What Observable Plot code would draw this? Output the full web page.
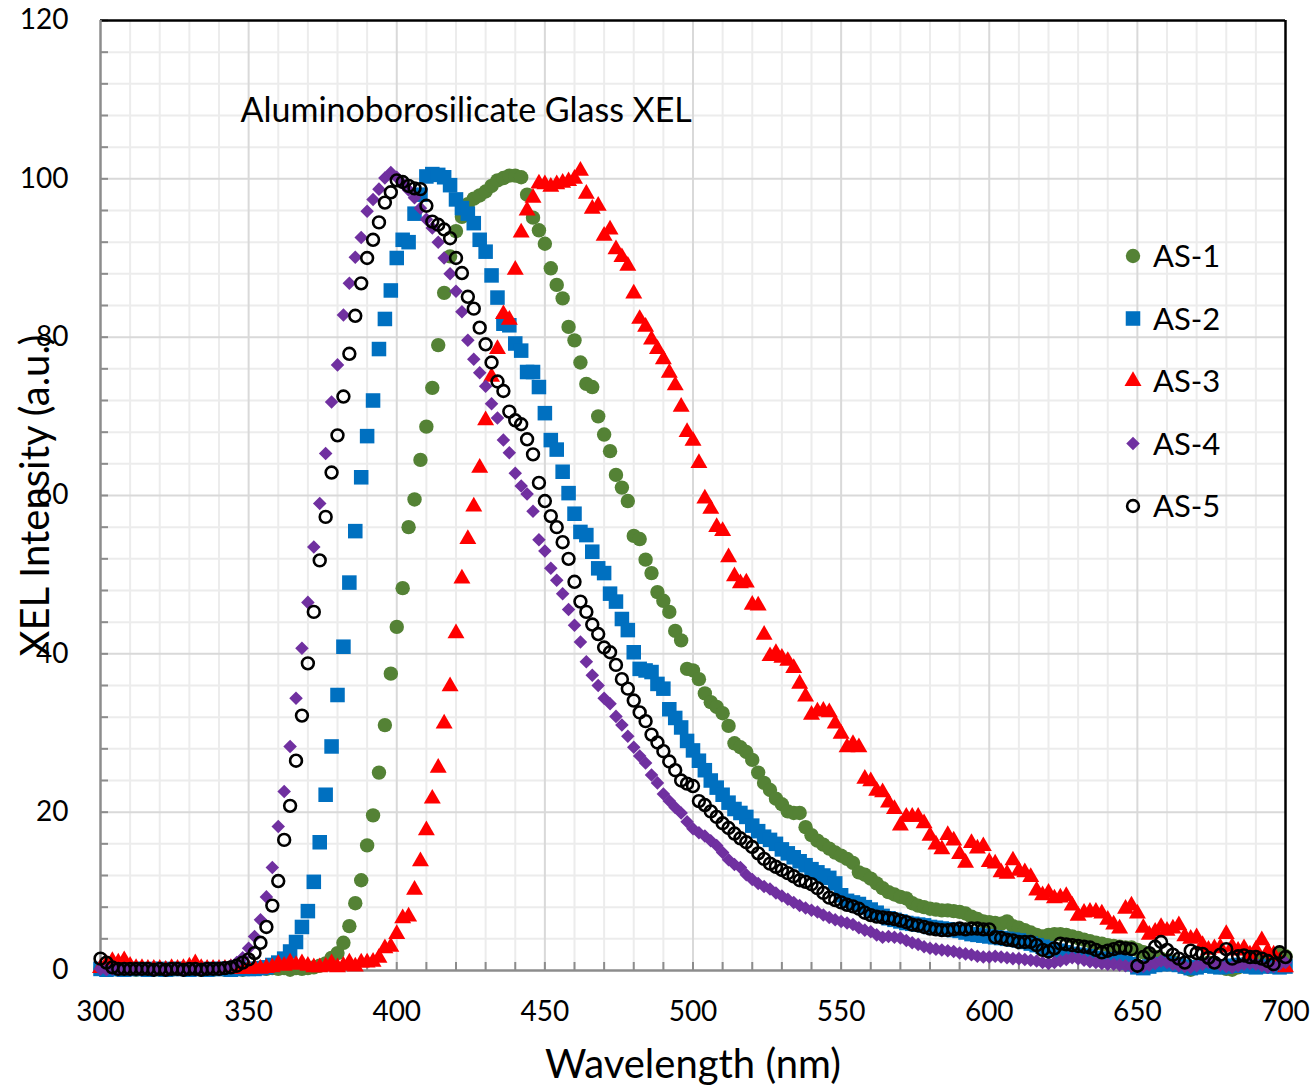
<!DOCTYPE html>
<html>
<head>
<meta charset="utf-8">
<script src="https://cdn.jsdelivr.net/npm/d3@7"></script>
<script src="https://cdn.jsdelivr.net/npm/@observablehq/plot@0.6"></script>
<style>
  body { margin: 0; background: #fff; }
  #wrap { position: relative; width: 1312px; height: 1085px; font-family: Lato, "Open Sans", sans-serif; }
  #legend { position: absolute; left: 0; top: 0; }
</style>
</head>
<body>
<div id="wrap"></div>
<script>
// ---- data ----
const wavelength = d3.range(300, 701, 2); // nm, 201 points

const seriesNames = ["AS-1", "AS-2", "AS-3", "AS-4", "AS-5"];

const as1 = [
 0.2,0.1,0.2,0.1,0.2,0.2,0.1,0.2,0.1,0.2,
 0.1,0.2,0.1,0.2,0.2,0.1,0.2,0.1,0.2,0.1,
 0.2,0.1,0.2,0.2,0.1,0.2,0.2,0.3,0.2,0.3,
 0.2,0.3,0.1,0.3,0.2,0.3,0.4,0.6,0.9,1.6,
 2.2,3.5,5.6,8.5,11.4,15.8,19.6,25.0,31.0,37.5,
 43.4,48.3,56.0,59.5,64.5,68.7,73.6,79.0,85.6,90.2,
 93.4,95.2,96.8,97.5,97.9,98.4,99.1,99.8,100.1,100.4,
 100.4,100.2,98.0,95.1,93.5,91.8,88.7,86.6,84.9,81.3,
 79.6,76.8,74.1,73.7,70.0,67.7,65.6,62.6,61.0,59.3,
 54.9,54.5,51.9,50.2,47.8,46.7,45.3,42.9,41.7,38.1,
 37.9,36.8,35.0,33.9,33.3,32.5,30.9,28.7,28.2,27.6,
 26.6,25.0,23.7,22.8,21.7,21.0,20.1,19.9,19.9,18.1,
 17.1,16.4,15.9,15.4,14.9,14.5,14.1,13.6,12.4,12.1,
 11.6,11.0,10.4,9.9,9.6,9.3,9.1,8.5,8.2,8.0,
 7.8,7.7,7.6,7.6,7.5,7.4,7.2,6.8,6.5,6.2,
 6.1,6.0,5.9,6.2,5.6,5.4,5.1,4.8,4.5,4.3,
 4.5,4.6,4.6,4.5,4.3,4.1,3.9,3.7,3.5,3.4,
 3.2,3.1,3.0,2.9,2.9,2.6,2.3,2.0,1.7,1.5,
 1.3,1.1,0.8,0.4,0.1,0.4,0.8,1.0,0.7,0.4,
 0.2,0.1,0.4,0.8,1.0,1.2,1.3,1.6,1.9,2.2,
 1.8];

const as2 = [
 0.2,0.1,0.2,0.2,0.1,0.2,0.2,0.2,0.1,0.2,
 0.2,0.1,0.2,0.2,0.2,0.1,0.2,0.2,0.1,0.2,
 0.2,0.2,0.1,0.2,0.2,0.2,0.2,0.3,0.4,0.7,
 1.0,1.5,2.4,3.6,5.5,7.5,11.2,16.2,22.2,28.3,
 34.8,40.9,49.0,55.5,62.3,67.5,72.0,78.5,82.3,85.9,
 90.0,92.3,92.0,95.6,98.0,100.3,100.6,100.5,100.2,99.2,
 97.4,96.3,95.6,94.4,92.3,90.8,87.8,85.0,81.7,81.5,
 79.2,78.3,75.6,75.6,73.7,70.4,67.0,65.8,63.0,60.3,
 57.7,55.4,55.0,52.9,50.8,50.2,47.6,46.6,44.4,43.0,
 40.2,38.1,37.9,37.7,36.2,35.6,33.0,31.9,30.7,29.0,
 27.8,26.5,25.3,24.0,23.1,22.2,21.2,20.4,19.9,19.4,
 18.3,17.6,16.9,16.5,16.0,15.3,14.8,14.3,13.8,13.3,
 12.8,12.4,12.0,11.7,11.0,9.5,8.8,8.6,8.4,8.0,
 7.7,7.3,6.9,6.6,6.4,6.2,6.0,5.9,5.8,5.7,
 5.5,5.4,5.3,5.2,5.1,5.0,4.8,4.6,4.5,4.4,
 4.3,4.2,4.1,4.0,3.9,3.8,3.6,3.4,3.2,3.0,
 2.8,2.6,2.5,2.3,2.1,2.0,1.9,1.8,1.6,1.5,
 1.4,1.3,1.2,1.0,0.8,0.4,0.3,0.5,0.7,0.8,
 0.9,0.8,0.7,0.5,0.3,0.4,0.6,0.7,0.5,0.4,
 0.5,0.6,0.7,0.6,0.5,0.4,0.5,0.6,0.5,0.4,
 0.5];

const as3 = [
 0.3,0.8,1.2,1.0,1.3,0.6,0.3,0.3,0.2,0.2,
 0.2,0.1,0.3,0.2,0.3,0.5,0.9,0.3,0.2,0.2,
 0.2,0.2,0.3,0.2,0.2,0.2,0.3,0.2,0.3,0.4,
 0.8,0.6,1.0,0.7,0.9,0.6,0.4,0.4,0.5,0.9,
 0.4,0.6,1.0,0.5,1.0,1.0,1.1,1.6,2.8,3.0,
 4.6,6.6,6.8,10.2,13.8,17.7,21.7,25.6,31.2,35.9,
 42.6,49.5,54.5,58.6,63.5,69.5,75.0,78.5,82.9,82.2,
 88.5,93.2,96.0,97.6,99.4,99.3,99.0,99.3,99.5,99.7,
 100.0,101.0,98.1,96.2,96.6,92.8,93.6,91.1,90.1,89.0,
 85.5,82.3,81.3,79.7,78.5,77.2,75.5,73.9,71.2,68.0,
 66.9,64.1,59.6,58.3,56.0,55.5,52.2,49.8,48.9,49.0,
 46.2,46.1,42.4,39.7,40.1,39.5,39.1,38.2,36.2,34.6,
 32.3,32.7,32.8,32.6,31.2,29.9,28.2,28.6,28.2,24.2,
 23.9,22.7,22.5,21.2,20.4,18.3,19.4,19.4,19.4,18.6,
 17.0,15.9,15.3,17.1,16.4,14.7,13.6,16.1,15.4,15.7,
 13.7,13.5,12.4,12.2,13.9,12.6,12.4,11.8,10.1,9.5,
 9.8,9.1,9.2,9.4,8.2,6.9,7.3,7.4,7.4,7.2,
 6.4,5.8,5.3,7.8,8.2,7.2,5.4,4.5,4.9,5.5,
 5.0,5.3,5.7,4.3,4.0,4.2,3.2,2.6,2.8,2.9,
 4.6,3.0,2.5,2.8,2.0,2.6,3.8,2.4,2.0,1.2,
 0.4];

const as4 = [
 0.2,0.1,0.2,0.1,0.2,0.1,0.2,0.1,0.2,0.1,
 0.2,0.1,0.2,0.2,0.1,0.2,0.1,0.2,0.2,0.2,
 0.3,0.4,0.6,1.0,1.6,2.8,4.3,6.4,9.3,13.0,
 18.2,22.6,28.3,34.4,40.7,46.5,53.5,59.0,65.3,71.8,
 76.5,82.8,86.8,90.1,92.6,95.9,97.4,98.7,100.1,100.8,
 100.2,99.4,98.6,97.6,96.3,94.9,93.8,92.0,90.0,88.0,
 85.8,83.2,79.6,77.2,75.5,73.8,71.6,69.8,67.0,65.4,
 62.8,61.2,60.2,58.0,54.4,53.0,50.8,49.3,47.6,45.6,
 43.6,41.5,39.0,37.3,36.0,34.4,33.7,32.1,31.0,29.6,
 28.2,27.1,26.2,24.7,23.7,22.3,21.4,20.6,19.9,18.8,
 17.9,17.4,17.0,16.4,15.8,14.9,14.0,13.4,13.0,12.1,
 11.5,11.0,10.6,10.3,9.8,9.4,9.0,8.6,8.2,7.9,
 7.6,7.4,7.0,6.7,6.4,6.2,6.0,5.8,5.4,5.1,
 4.9,4.5,4.2,4.3,4.2,4.1,3.8,3.5,3.3,3.0,
 2.8,2.7,2.6,2.5,2.4,2.2,2.1,2.0,1.8,1.7,
 1.7,1.8,1.7,1.6,1.5,1.5,1.4,1.3,1.2,1.0,
 0.9,1.0,1.2,1.4,1.6,1.5,1.3,1.1,1.0,0.9,
 0.8,0.8,0.7,0.6,0.5,0.4,0.5,0.7,0.9,1.2,
 1.0,0.8,0.6,0.5,0.4,0.6,0.8,1.0,0.9,0.7,
 0.5,0.4,0.6,0.8,0.9,0.8,0.6,0.4,0.5,0.8,
 1.0];

const as5 = [
 1.5,1.0,0.4,0.2,0.2,0.2,0.2,0.2,0.2,0.1,
 0.2,0.1,0.2,0.2,0.1,0.2,0.2,0.1,0.2,0.2,
 0.2,0.3,0.4,0.6,1.0,1.4,2.2,3.5,5.5,8.2,
 11.3,16.5,20.8,26.5,32.2,38.8,45.3,51.8,57.3,62.9,
 67.6,72.5,77.9,82.7,86.8,90.0,92.3,94.5,97.0,98.3,
 99.8,99.6,99.1,98.8,98.7,96.6,94.6,94.2,93.6,92.5,
 90.0,88.1,85.1,83.6,81.2,79.1,76.8,74.4,73.2,70.6,
 69.5,69.0,67.1,65.2,61.6,59.3,57.4,56.0,54.1,52.0,
 49.1,46.6,45.3,43.7,42.5,40.8,40.2,38.6,36.8,35.6,
 34.1,32.6,31.5,29.8,28.8,27.7,26.4,25.3,24.0,23.6,
 23.3,21.4,20.9,20.1,19.4,18.6,18.0,17.3,16.7,16.2,
 15.6,14.8,14.1,13.5,13.1,12.7,12.3,11.9,11.4,11.2,
 10.9,10.4,9.8,9.2,8.9,8.6,8.3,8.1,7.8,7.3,
 7.0,6.8,6.7,6.6,6.5,6.3,6.1,5.8,5.7,5.5,
 5.3,5.2,5.1,5.1,5.2,5.3,5.2,5.3,5.3,5.2,
 5.2,4.2,4.1,3.9,3.8,3.6,3.6,3.6,3.2,2.6,
 2.4,2.8,3.4,3.3,3.2,3.1,3.0,2.9,2.6,2.3,
 2.5,2.7,2.9,2.8,2.7,0.6,1.7,2.2,3.0,3.6,
 2.6,2.0,1.5,1.0,2.5,2.2,2.1,1.6,1.0,2.0,
 2.7,1.5,1.8,1.9,1.7,1.7,1.5,1.2,0.8,2.3,
 1.7];

const xTicks = [300, 350, 400, 450, 500, 550, 600, 650, 700];
const yTicks = [0, 20, 40, 60, 80, 100, 120];
const chartTitle = "Aluminoborosilicate Glass XEL";
const xLabel = "Wavelength (nm)";
const yLabel = "XEL Intensity (a.u.)";

// ---- styles ----
const styles = {
  "AS-1": {symbol: "circle",   fill: "#548235", stroke: "none",   r: 7.2, strokeWidth: 0},
  "AS-2": {symbol: "square",   fill: "#0070C0", stroke: "none",   r: 8.2, strokeWidth: 0},
  "AS-3": {symbol: "triangle", fill: "#FF0000", stroke: "none",   r: 6.3, strokeWidth: 0},
  "AS-4": {symbol: "diamond2", fill: "#7030A0", stroke: "none",   r: 6.1, strokeWidth: 0},
  "AS-5": {symbol: "circle",   fill: "none",    stroke: "#000",   r: 5.9, strokeWidth: 2.6}
};
const seriesValues = {"AS-1": as1, "AS-2": as2, "AS-3": as3, "AS-4": as4, "AS-5": as5};
for (const k of seriesNames) {
  if (seriesValues[k].length !== wavelength.length) throw new Error(k + " length " + seriesValues[k].length);
}

const dotMarks = seriesNames.map(name => {
  const s = styles[name];
  const rows = wavelength.map((w, i) => ({w, v: seriesValues[name][i]}));
  return Plot.dot(rows, {
    x: "w", y: "v", symbol: () => s.symbol, r: s.r,
    fill: s.fill, stroke: s.stroke, strokeWidth: s.strokeWidth
  });
});

const font = "Lato, 'Open Sans', sans-serif";
const minorX = d3.range(310, 700, 10).filter(d => d % 50 !== 0);
const minorY = d3.range(4, 120, 4).filter(d => d % 20 !== 0);

const chart = Plot.plot({
  width: 1312,
  height: 1085,
  marginLeft: 100,
  marginRight: 27,
  marginTop: 20,
  marginBottom: 115,
  style: {fontFamily: font, background: "#fff", color: "#000", overflow: "visible"},
  x: {domain: [300, 700]},
  y: {domain: [0, 120]},
  symbol: {type: "identity"},
  marks: [
    Plot.gridX(minorX, {stroke: "#ececec", strokeOpacity: 1, strokeWidth: 2}),
    Plot.gridY(minorY, {stroke: "#ececec", strokeOpacity: 1, strokeWidth: 2}),
    Plot.gridX(xTicks.slice(1, -1), {stroke: "#d9d9d9", strokeOpacity: 1, strokeWidth: 2}),
    Plot.gridY(yTicks.slice(1, -1), {stroke: "#d9d9d9", strokeOpacity: 1, strokeWidth: 2}),
    // minor tick marks pointing into the plot
    Plot.axisY(d3.range(0, 121, 4), {tickSize: -8, tickFormat: () => "", stroke: "#8c8c8c", strokeWidth: 2, label: null}),
    Plot.axisX(d3.range(300, 701, 10), {tickSize: -8, tickFormat: () => "", stroke: "#8c8c8c", strokeWidth: 2, label: null}),
    Plot.axisY(yTicks, {tickSize: 0, tickPadding: 32, fontSize: 28, label: null}),
    Plot.axisX(xTicks, {tickSize: 0, tickPadding: 31, fontSize: 28, label: null}),
    Plot.ruleY([120], {stroke: "#000", strokeWidth: 2.5}),
    Plot.ruleX([700], {stroke: "#000", strokeWidth: 2.5}),
    Plot.ruleX([300], {stroke: "#8c8c8c", strokeWidth: 2.5}),
    Plot.ruleY([0], {stroke: "#8c8c8c", strokeWidth: 2.5}),
    ...dotMarks,
    Plot.text([chartTitle], {frameAnchor: "top-left", textAnchor: "start", lineAnchor: "middle", dx: 140, dy: 91, fontSize: 34, fill: "#000"}),
    Plot.text([xLabel], {frameAnchor: "bottom", textAnchor: "middle", lineAnchor: "middle", dy: 95, fontSize: 40, fill: "#000"}),
    Plot.text([yLabel], {frameAnchor: "left", textAnchor: "middle", lineAnchor: "middle", rotate: -90, dx: -64, fontSize: 40, fill: "#000"})
  ]
});

const wrap = document.getElementById("wrap");
wrap.appendChild(chart);

// ---- legend overlay ----
const leg = d3.select(wrap).append("svg").attr("id", "legend")
  .attr("width", 1312).attr("height", 1085)
  .style("pointer-events", "none");
const symbolMap = {circle: d3.symbolCircle, square: d3.symbolSquare, triangle: d3.symbolTriangle, diamond2: d3.symbolDiamond2};
seriesNames.forEach((name, i) => {
  const s = styles[name];
  const g = leg.append("g").attr("transform", `translate(1133,${256 + i * 62.5})`);
  g.append("path")
    .attr("d", d3.symbol(symbolMap[s.symbol], Math.PI * s.r * s.r)())
    .attr("fill", s.fill).attr("stroke", s.stroke === "none" ? null : s.stroke)
    .attr("stroke-width", s.strokeWidth || null);
  g.append("text").attr("x", 20).attr("dy", "0.36em")
    .attr("font-family", font).attr("font-size", 31).attr("fill", "#000")
    .text(name);
});
</script>
</body>
</html>
